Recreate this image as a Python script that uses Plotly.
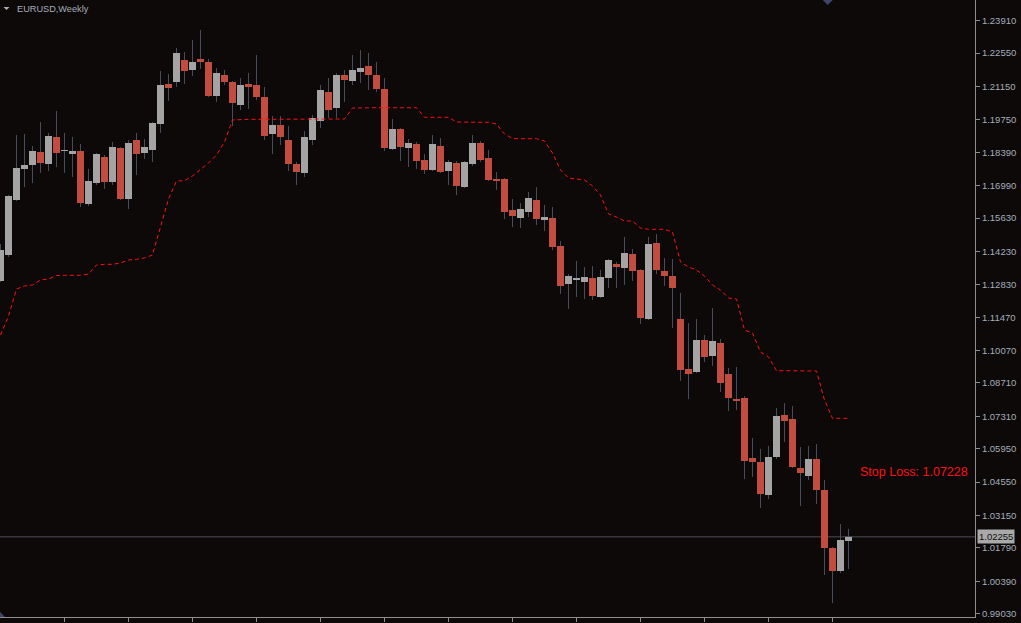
import plotly.graph_objects as go

# ---------------- data (EURUSD weekly) ----------------
weeks = list(range(-1, 106))

opens = [
    1.12989, 1.14079, 1.16387, 1.17688, 1.17855, 1.18401, 1.17897, 1.19030, 1.18443, 1.18317,
    1.18443, 1.16219, 1.17100, 1.18191, 1.17142, 1.18568, 1.16429, 1.18904, 1.18359, 1.18485,
    1.19575, 1.21254, 1.21338, 1.22261, 1.21841, 1.22303, 1.22177, 1.20750, 1.21632, 1.21338,
    1.20373, 1.21254, 1.21212, 1.20709, 1.19156, 1.19533, 1.18904, 1.17897, 1.17520, 1.18904,
    1.19701, 1.20918, 1.20247, 1.21632, 1.21380, 1.21757, 1.22009, 1.21632, 1.21044, 1.18527,
    1.19366, 1.18568, 1.18736, 1.18065, 1.17646, 1.18652, 1.17604, 1.17939, 1.16932, 1.17897,
    1.18778, 1.18149, 1.17268, 1.17268, 1.15968, 1.15632, 1.15884, 1.16387, 1.15548, 1.15632,
    1.14457, 1.12863, 1.13031, 1.12947, 1.13115, 1.12318, 1.13115, 1.13702, 1.13534, 1.14121,
    1.13450, 1.11394, 1.14583, 1.13408, 1.13199, 1.11394, 1.09297, 1.09171, 1.10513, 1.09842,
    1.10387, 1.09087, 1.08038, 1.08080, 1.05563, 1.05395, 1.04010, 1.05605, 1.07367, 1.07199,
    1.05143, 1.04808, 1.05521, 1.04220, 1.01787, 1.00822, 1.02080,
]
highs = [
    1.14541, 1.16597, 1.19114, 1.19156, 1.18652, 1.19659, 1.19198, 1.20121, 1.19198, 1.19030,
    1.18736, 1.17687, 1.18359, 1.18275, 1.18820, 1.18610, 1.18904, 1.19198, 1.18946, 1.19659,
    1.21799, 1.21674, 1.22764, 1.22596, 1.23100, 1.23519, 1.22303, 1.21925, 1.21841, 1.21380,
    1.21506, 1.21715, 1.22470, 1.21128, 1.19911, 1.19911, 1.19491, 1.17981, 1.19282, 1.19953,
    1.21212, 1.21506, 1.21715, 1.21841, 1.22470, 1.22680, 1.22554, 1.22177, 1.21506, 1.19785,
    1.19407, 1.18946, 1.18820, 1.18317, 1.19114, 1.18988, 1.18065, 1.18023, 1.18023, 1.19114,
    1.18862, 1.18485, 1.17562, 1.17310, 1.16429, 1.16261, 1.16723, 1.16932, 1.16177, 1.16093,
    1.14667, 1.13282, 1.13828, 1.13576, 1.13618, 1.13450, 1.13912, 1.13786, 1.14835, 1.14331,
    1.13492, 1.14835, 1.14961, 1.13954, 1.13912, 1.12485, 1.11226, 1.11394, 1.10723, 1.11856,
    1.10555, 1.09339, 1.09381, 1.08164, 1.06402, 1.05940, 1.06066, 1.07661, 1.07870, 1.07745,
    1.06024, 1.06066, 1.06150, 1.04640, 1.01829, 1.02793, 1.02584,
]
lows = [
    1.12947, 1.13995, 1.16345, 1.16932, 1.17100, 1.17520, 1.17604, 1.17771, 1.17520, 1.17352,
    1.16093, 1.16135, 1.17016, 1.16848, 1.17016, 1.16387, 1.16009, 1.17436, 1.18107, 1.17981,
    1.19198, 1.20541, 1.21128, 1.21254, 1.21590, 1.21883, 1.20709, 1.20499, 1.21212, 1.19491,
    1.20163, 1.20205, 1.20583, 1.18904, 1.18317, 1.18694, 1.17604, 1.17016, 1.17352, 1.18694,
    1.19407, 1.19827, 1.19827, 1.20499, 1.21212, 1.21296, 1.21002, 1.20918, 1.18443, 1.18485,
    1.18023, 1.17771, 1.17687, 1.17478, 1.17604, 1.17520, 1.17016, 1.16597, 1.16890, 1.17813,
    1.17981, 1.17184, 1.16807, 1.15590, 1.15254, 1.15212, 1.15674, 1.15338, 1.15086, 1.14289,
    1.12443, 1.11814, 1.12318, 1.12234, 1.12192, 1.12276, 1.12695, 1.12695, 1.12821, 1.12989,
    1.11184, 1.11352, 1.13282, 1.12779, 1.11016, 1.08793, 1.08038, 1.09129, 1.09590, 1.09423,
    1.08332, 1.07535, 1.07577, 1.04682, 1.04766, 1.03465, 1.03843, 1.05521, 1.06234, 1.05143,
    1.03549, 1.04640, 1.03633, 1.00654, 0.99479, 1.00738, 1.00906,
]
closes = [
    1.14289, 1.16555, 1.17729, 1.17855, 1.18443, 1.17939, 1.19072, 1.18359, 1.18485, 1.18443,
    1.16261, 1.17184, 1.18317, 1.17142, 1.18610, 1.16429, 1.18778, 1.18317, 1.18610, 1.19617,
    1.21212, 1.21086, 1.22554, 1.21799, 1.22177, 1.22177, 1.20750, 1.21715, 1.21338, 1.20457,
    1.21212, 1.21128, 1.20709, 1.19072, 1.19533, 1.19030, 1.17897, 1.17562, 1.19030, 1.19827,
    1.21002, 1.20163, 1.21632, 1.21422, 1.21841, 1.21925, 1.21632, 1.21044, 1.18568, 1.19366,
    1.18610, 1.18778, 1.18023, 1.17646, 1.18736, 1.17562, 1.17981, 1.16974, 1.17981, 1.18778,
    1.18065, 1.17226, 1.17184, 1.15884, 1.15716, 1.16009, 1.16471, 1.15590, 1.15674, 1.14415,
    1.12779, 1.13199, 1.13115, 1.13157, 1.12360, 1.13157, 1.13870, 1.13576, 1.14163, 1.13408,
    1.11436, 1.14541, 1.13450, 1.13199, 1.12695, 1.09255, 1.09087, 1.10513, 1.09800, 1.10471,
    1.08709, 1.08080, 1.07954, 1.05437, 1.05395, 1.04052, 1.05605, 1.07325, 1.07115, 1.05185,
    1.04933, 1.05521, 1.04220, 1.01787, 1.00822, 1.02122, 1.02255,
]
stop_line = [
    1.10723, 1.11520, 1.12653, 1.12779, 1.12821, 1.13031, 1.13073, 1.13219, 1.13228, 1.13228,
    1.13228, 1.13282, 1.13660, 1.13689, 1.13689, 1.13744, 1.13870, 1.13899, 1.13954, 1.14079,
    1.15296, 1.16429, 1.17184, 1.17197, 1.17394, 1.17687, 1.17939, 1.18275, 1.18820, 1.19743,
    1.19773, 1.19773, 1.19773, 1.19773, 1.19773, 1.19773, 1.19773, 1.19773, 1.19773, 1.19773,
    1.19773, 1.19773, 1.19773, 1.19785, 1.20247, 1.20259, 1.20259, 1.20259, 1.20259, 1.20259,
    1.20259, 1.20259, 1.20259, 1.19857, 1.19857, 1.19857, 1.19857, 1.19659, 1.19647, 1.19647,
    1.19647, 1.19647, 1.19575, 1.19156, 1.18967, 1.18959, 1.18959, 1.18959, 1.18862, 1.18359,
    1.17646, 1.17310, 1.17268, 1.17226, 1.16974, 1.16597, 1.15800, 1.15674, 1.15506, 1.15506,
    1.15212, 1.15158, 1.15158, 1.15158, 1.15045, 1.13786, 1.13576, 1.13450, 1.13199, 1.12821,
    1.12611, 1.12276, 1.12234, 1.10933, 1.10807, 1.10010, 1.09800, 1.09225, 1.09225, 1.09225,
    1.09225, 1.09225, 1.09213, 1.07996, 1.07228, 1.07228, 1.07228,
]
stop_loss_value = 1.07228
symbol_label = "EURUSD,Weekly"

price_ticks = [1.23910, 1.22550, 1.21150, 1.19750, 1.18390, 1.16990, 1.15630, 1.14230,
               1.12830, 1.11470, 1.10070, 1.08710, 1.07310, 1.05950, 1.04550, 1.03150,
               1.01790, 1.00390, 0.99030]
time_ticks = [7, 15, 23, 31, 39, 47, 55, 63, 71, 79, 87, 95, 103]

# ---------------- styles ----------------
BG = "#0c0908"
UP = "#a4a4a4"
DOWN = "#c24c3d"
WICK = "#474b5e"
AXIS = "#8e8e8e"
LABEL = "#a7aebb"
STOP = "#ff1010"
FONT = "Liberation Sans, Arial, sans-serif"

# wick segments (outside the bodies)
wx, wy = [], []
for k, o, h, l, c in zip(weeks, opens, highs, lows, closes):
    top, bot = max(o, c), min(o, c)
    wx += [k, k, None, k, k, None]
    wy += [h, top, None, bot, l, None]

body_base = [min(o, c) for o, c in zip(opens, closes)]
body_h = [abs(c - o) for o, c in zip(opens, closes)]
body_col = [UP if c >= o else DOWN for o, c in zip(opens, closes)]

fig = go.Figure()
fig.add_trace(go.Scatter(x=wx, y=wy, mode="lines", line=dict(color=WICK, width=1),
                         hoverinfo="skip", showlegend=False))
fig.add_trace(go.Bar(x=weeks, y=body_h, base=body_base, width=0.875,
                     marker=dict(color=body_col, line=dict(width=0)),
                     hoverinfo="skip", showlegend=False))
fig.add_trace(go.Scatter(x=weeks, y=stop_line, mode="lines",
                         line=dict(color=STOP, width=1, dash="4px,3px"),
                         hoverinfo="skip", showlegend=False))

last_close = closes[-1]
fig.add_shape(type="line", xref="paper", x0=0, x1=1, yref="y", y0=last_close, y1=last_close,
              line=dict(color="#4c4c5a", width=1), layer="below")

# chart-shift and small markers
fig.add_shape(type="path", xref="paper", yref="paper",
              path="M 0.8438,1 L 0.8541,1 L 0.8489,0.9919 Z",
              fillcolor="#3e4566", line=dict(width=0))
fig.add_shape(type="path", xref="paper", yref="paper",
              path="M 0,0.0086 L 0,0 L 0.0051,0 Z",
              fillcolor="#3e4566", line=dict(width=0))
fig.add_shape(type="path", xref="paper", yref="paper",
              path="M 0.0036,0.9887 L 0.0097,0.9887 L 0.0067,0.9838 Z",
              fillcolor=LABEL, line=dict(width=0))

fig.add_annotation(xref="paper", yref="paper", x=15 / 975, y=0.9855,
                   xanchor="left", yanchor="middle", showarrow=False,
                   text=symbol_label, font=dict(family=FONT, size=9.2, color=LABEL))
fig.add_annotation(xref="paper", yref="y", x=858 / 975, y=1.0496,
                   xanchor="left", yanchor="middle", showarrow=False,
                   text=f"Stop Loss: {stop_loss_value:.5f}",
                   font=dict(family=FONT, size=12.5, color=STOP))
fig.add_annotation(xref="paper", yref="y", x=977 / 975, y=last_close,
                   xanchor="left", yanchor="middle", showarrow=False,
                   text=f"{last_close:.5f}", bgcolor="#a9a9a9", borderpad=1,
                   font=dict(family=FONT, size=9.5, color="#101010"))

fig.update_layout(
    width=1021, height=623,
    margin=dict(l=0, r=46, t=0, b=6, pad=0),
    paper_bgcolor=BG, plot_bgcolor=BG,
    showlegend=False, hovermode=False,
    xaxis=dict(range=[-1.0625, 120.8125], showgrid=False, zeroline=False,
               showline=True, linecolor=AXIS, linewidth=1, mirror=True,
               ticks="outside", ticklen=4, tickcolor=AXIS, tickvals=time_ticks,
               showticklabels=False, fixedrange=True),
    yaxis=dict(range=[0.98892, 1.24778], side="right", showgrid=False, zeroline=False,
               showline=True, linecolor=AXIS, linewidth=1,
               ticks="outside", ticklen=4, tickcolor=AXIS,
               tickvals=price_ticks, ticktext=[f"{v:.5f}" for v in price_ticks],
               tickfont=dict(family=FONT, size=9.5, color=LABEL), fixedrange=True),
)

fig.write_html(
    "out.html",
    config={"displayModeBar": False},
    post_script="document.body.style.margin='0';document.body.style.overflow='hidden';"
                "document.body.style.background='" + BG + "';",
)
